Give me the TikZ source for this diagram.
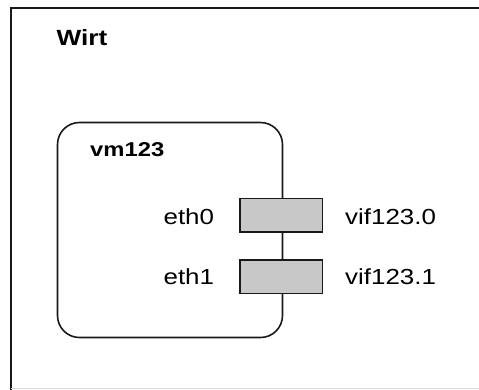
\documentclass[tikz,border=0pt]{standalone}
\usepackage{fontspec}
\setmainfont[FakeStretch=1.19]{Liberation Sans}
\definecolor{portfill}{HTML}{C8C8C8}
\definecolor{edgegray}{HTML}{D8D8D8}
\begin{document}
\begin{tikzpicture}[x=1pt,y=-1pt,
  frame/.style={draw=black!90, line width=2pt},
  vmbox/.style={draw=black!90, line width=1.6pt, rounded corners=22pt,
    minimum width=225pt, minimum height=215pt, inner sep=0pt},
  port/.style={draw=black!90, fill=portfill, line width=1.7pt,
    minimum width=82.5pt, minimum height=33.3pt, inner sep=0pt},
  lbl/.style={inner sep=0pt, font=\fontsize{21.8}{24}\selectfont},
  title/.style={inner sep=0pt, anchor=base west, font=\bfseries\fontsize{22}{26}\selectfont}]
\useasboundingbox (0,0) rectangle (479,389);
\clip (0,0) rectangle (479,389);

% host frame, running off the right and bottom edges
\draw[frame] (10.5,400) -- (10.5,7.5) -- (490,7.5);
\draw[edgegray, line width=1pt] (11,388.5) -- (479,388.5);
\node[title] (host) at (56.5,45.7) {Wirt};

% virtual machine
\node[vmbox] (vm) at (170,230) {};
\node[title, font=\bfseries\fontsize{20}{24}\selectfont] (vmname) at (90,156.7) {vm123};

% interfaces sitting on the machine's edge
\node[port] (p0) at (281.25,215) {};
\node[port] (p1) at (281.25,276.7) {};

\node[lbl, anchor=base east] (eth0) at (214.3,224.3) {eth0};
\node[lbl, anchor=base east] (eth1) at (214.3,284.3) {eth1};
\node[lbl, anchor=base west] (vif0) at (345,224.3) {vif123.0};
\node[lbl, anchor=base west] (vif1) at (345,284) {vif123.1};
\end{tikzpicture}
\end{document}
